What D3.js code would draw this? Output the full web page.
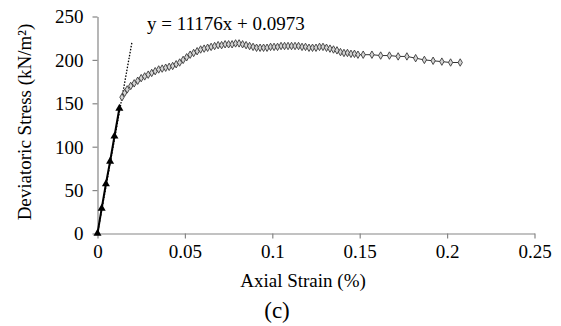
<!DOCTYPE html>
<html>
<head>
<meta charset="utf-8">
<script src="https://cdn.jsdelivr.net/npm/d3@7"></script>
<style>
  html, body { margin: 0; padding: 0; background: #fff; }
  svg { display: block; }
  svg text { font-family: "Liberation Serif", "Times New Roman", Times, "DejaVu Serif", serif !important; fill: #000; }
</style>
</head>
<body>
<svg id="chart" width="561" height="326"></svg>
<script>
// ---- data ----
const xTicks = [0, 0.05, 0.1, 0.15, 0.2, 0.25];
const xTickLabels = ["0", "0.05", "0.1", "0.15", "0.2", "0.25"];
const yTicks = [0, 50, 100, 150, 200, 250];
const yTickLabels = ["0", "50", "100", "150", "200", "250"];

// elastic (linear) stage - triangles
const linStrain = [0, 0.0024, 0.0048, 0.0072, 0.0097, 0.0125];
const linStress = [0, 29, 57, 83, 112, 144];

// plastic stage - diamonds
const plStrain = [0.0140, 0.0155, 0.0170, 0.0190, 0.0210, 0.0230, 0.0250, 0.0270, 0.0290, 0.0310,
  0.0330, 0.0350, 0.0370, 0.0390, 0.0410, 0.0430, 0.0450, 0.0470, 0.0490, 0.0510,
  0.0530, 0.0550, 0.0570, 0.0590, 0.0610, 0.0630, 0.0650, 0.0670, 0.0690, 0.0710,
  0.0730, 0.0750, 0.0770, 0.0790, 0.0810, 0.0830, 0.0850, 0.0870, 0.0890, 0.0910,
  0.0930, 0.0950, 0.0970, 0.0990, 0.1010, 0.1030, 0.1050, 0.1070, 0.1090, 0.1110,
  0.1130, 0.1150, 0.1170, 0.1190, 0.1210, 0.1230, 0.1250, 0.1270, 0.1290, 0.1310,
  0.1330, 0.1350, 0.1370, 0.1390, 0.1410, 0.1430, 0.1450, 0.1470, 0.1490, 0.1520,
  0.1570, 0.1620, 0.1670, 0.1720, 0.1770, 0.1820, 0.1870, 0.1920, 0.1970, 0.2020, 0.2075];
const plStress = [157, 162, 166, 170, 173, 176, 179, 181, 183, 185,
  187, 189, 190, 191, 192, 193, 195, 197, 200, 203,
  206, 208, 210, 212, 213, 214, 215, 216, 217, 217,
  218, 218, 218, 219, 219, 218, 217, 216, 215, 214,
  214, 214, 214, 215, 215, 215, 216, 216, 216, 216,
  216, 216, 215, 215, 214, 214, 214, 215, 215, 214,
  213, 212, 211, 209, 208, 208, 207, 207, 206, 206,
  206, 205, 205, 204, 204, 202, 200, 199, 198, 197, 197];

// trend line
const trendSlope = 11176;
const trendIntercept = 0.0973;
const trendRange = [0, 0.0197];
const trendLabel = "y = 11176x + 0.0973";

// ---- chart ----
const FONT = "'Liberation Serif', 'Times New Roman', Times, 'DejaVu Serif', serif";
const svg = d3.select("#chart");
const margin = { left: 97.5, right: 561 - 534.5, top: 16.5, bottom: 326 - 233.5 };
const W = 561, H = 326;
const x = d3.scaleLinear().domain([0, 0.25]).range([margin.left, W - margin.right]);
const y = d3.scaleLinear().domain([0, 250]).range([H - margin.bottom, margin.top]);

const axisColor = "#868686";

const xAxis = svg.append("g")
  .attr("transform", `translate(0,${y(0)})`)
  .call(d3.axisBottom(x).tickValues(xTicks).tickFormat((d, i) => xTickLabels[i]).tickSize(5).tickSizeOuter(0).tickPadding(6));
const yAxis = svg.append("g")
  .attr("transform", `translate(${x(0)},0)`)
  .call(d3.axisLeft(y).tickValues(yTicks).tickFormat((d, i) => yTickLabels[i]).tickSize(5).tickSizeOuter(0).tickPadding(9));

[xAxis, yAxis].forEach(g => {
  g.attr("font-family", FONT).attr("font-size", 19);
  g.select(".domain").attr("stroke", axisColor).attr("stroke-width", 1.2);
  g.selectAll(".tick line").attr("stroke", axisColor).attr("stroke-width", 1.2);
  g.selectAll(".tick text").attr("font-family", FONT).attr("font-size", 19).attr("fill", "#000");
});
yAxis.selectAll(".tick text").attr("dy", "0.34em");

// trend line (dotted)
svg.append("line")
  .attr("x1", x(trendRange[0])).attr("y1", y(trendSlope * trendRange[0] + trendIntercept))
  .attr("x2", x(trendRange[1])).attr("y2", y(trendSlope * trendRange[1] + trendIntercept))
  .attr("stroke", "#000").attr("stroke-width", 1.3).attr("stroke-dasharray", "1.5,1.5");

const line = d3.line().x(d => x(d[0])).y(d => y(d[1]));

// plastic stage line + diamonds
const plData = plStrain.map((s, i) => [s, plStress[i]]);
svg.append("path").datum(plData)
  .attr("d", line).attr("fill", "none").attr("stroke", "#333").attr("stroke-width", 1);
svg.append("g").selectAll("path").data(plData).join("path")
  .attr("d", d3.symbol(d3.symbolDiamond, 16))
  .attr("transform", d => `translate(${x(d[0])},${y(d[1])})`)
  .attr("fill", "#d4d4d4").attr("stroke", "#3a3a3a").attr("stroke-width", 0.9);

// linear stage line + triangles
const linData = linStrain.map((s, i) => [s, linStress[i]]);
svg.append("path").datum(linData)
  .attr("d", line).attr("fill", "none").attr("stroke", "#000").attr("stroke-width", 2);
svg.append("g").selectAll("path").data(linData).join("path")
  .attr("d", d3.symbol(d3.symbolTriangle, 28))
  .attr("transform", d => `translate(${x(d[0])},${y(d[1])})`)
  .attr("fill", "#000");

// labels
const labels = svg.append("g").attr("font-family", FONT);
labels.append("text").attr("x", 147).attr("y", 30).attr("font-size", 19).text(trendLabel);
labels.append("text").attr("x", (margin.left + W - margin.right) / 2 - 13).attr("y", 287)
  .attr("text-anchor", "middle").attr("font-size", 19).text("Axial Strain (%)");
labels.append("text").attr("x", 277).attr("y", 318)
  .attr("text-anchor", "middle").attr("font-size", 23).text("(c)");
labels.append("text").attr("transform", "translate(31,122) rotate(-90)")
  .attr("text-anchor", "middle").attr("font-size", 19).text("Deviatoric Stress (kN/m²)");
labels.selectAll("text").attr("font-family", FONT);
</script>
</body>
</html>
